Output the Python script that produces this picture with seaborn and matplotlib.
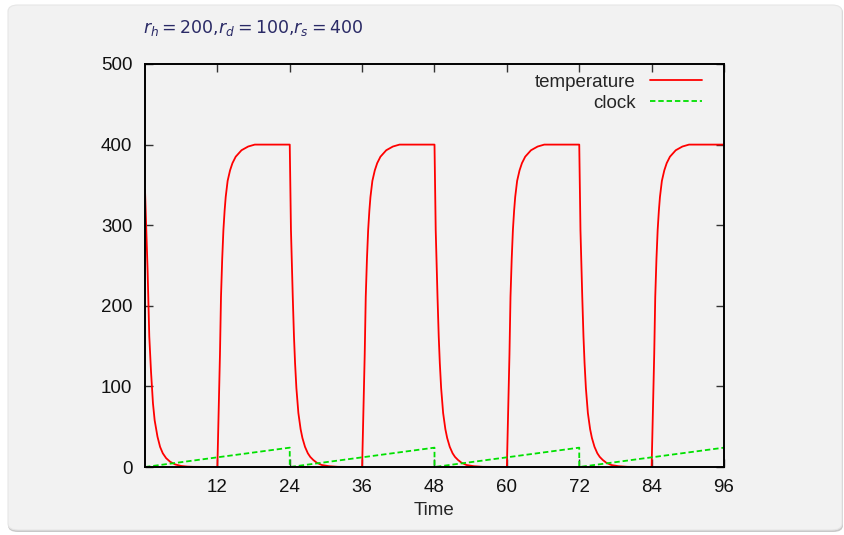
import numpy as np
import pandas as pd
import matplotlib
matplotlib.use("Agg")
import matplotlib.pyplot as plt
import seaborn as sns
from matplotlib.patches import FancyBboxPatch

# ---------------- data ----------------
# initial cooling (t = 0 .. 12)
init_t = [0, 0.25, 0.43, 0.71, 1.0, 1.32, 1.6, 2.07, 2.5, 2.95, 3.5, 4.15, 5.0, 6.0, 7.0, 8.0]
init_v = [344, 285, 244, 162, 118, 79, 58, 37.6, 25, 17, 11, 6.6, 3.2, 1.3, 0.5, 0.2]
# heating profile (hours after heater switches on)
heat_dt = [0, 0.13, 0.27, 0.43, 0.6, 0.8, 1.0, 1.2, 1.38, 1.7, 2.1, 2.5, 3.04, 4.0, 5.1, 6.2, 12]
heat_v = [0, 44, 87, 140, 211, 258, 294, 318, 335, 355, 368, 377, 385, 393, 397.6, 400, 400]
# cooling profile (hours after heater switches off)
cool_dt = [0, 0.1, 0.2, 0.35, 0.5, 0.7, 0.88, 1.1, 1.43, 1.8, 2.1, 2.53, 3.0, 3.4, 3.9, 4.5, 5.3, 6.5, 8.0]
cool_v = [400, 345, 294, 250, 211, 162, 129, 98, 67, 47, 36, 25, 17, 12.5, 8.7, 5.2, 2.5, 1.0, 0.2]
heat_on = [12, 36, 60, 84]
heat_off = [24, 48, 72]

# clock sawtooth
clock_t = [0, 24, 24, 48, 48, 72, 72, 96]
clock_v = [0, 24, 0, 24, 0, 24, 0, 24]

x_ticks = [12, 24, 36, 48, 60, 72, 84, 96]
y_ticks = [0, 100, 200, 300, 400, 500]
title_text = r"$r_h{=}200{,}r_d{=}100{,}r_s{=}400$"

# build temperature table
tt, tv = list(init_t), list(init_v)
for k, on in enumerate(heat_on):
    tt += [on + d for d in heat_dt[:-1]]
    tv += heat_v[:-1]
    if k < len(heat_off):
        off = heat_off[k]
        tt += [off + d for d in cool_dt]
        tv += cool_v
tt.append(96)
tv.append(400)
temp_df = pd.DataFrame({"Time": tt, "value": tv})
clock_df = pd.DataFrame({"Time": clock_t, "value": clock_v})

# ---------------- style ----------------
sns.set_style("ticks")
plt.rcParams["font.family"] = ["Liberation Sans", "DejaVu Sans"]
plt.rcParams["mathtext.fontset"] = "dejavusans"

bg = "#f2f2f2"
fig = plt.figure(figsize=(8.45, 5.35), dpi=100)
fig.patch.set_facecolor("white")

# rounded panel
shadow = FancyBboxPatch((8 / 845, 3 / 535), 835 / 845, 526 / 535,
                        boxstyle="round,pad=0,rounding_size=0.012",
                        transform=fig.transFigure, facecolor="#c8c8c8",
                        edgecolor="none", zorder=-3)
panel = FancyBboxPatch((8 / 845, 5 / 535), 834 / 845, 525 / 535,
                       boxstyle="round,pad=0,rounding_size=0.012",
                       transform=fig.transFigure, facecolor=bg,
                       edgecolor="#e6e6e6", linewidth=0.8, zorder=-2)
fig.patches.extend([shadow, panel])

ax = fig.add_axes([145 / 845, 1 - 467 / 535, (724 - 145) / 845, (467 - 64) / 535])
ax.set_facecolor(bg)
ax.patch.set_alpha(0)

sns.lineplot(data=temp_df, x="Time", y="value", ax=ax, estimator=None, sort=False,
             color="#ff0000", linewidth=1.3, label="temperature")
sns.lineplot(data=clock_df, x="Time", y="value", ax=ax, estimator=None, sort=False,
             color="#00e000", linewidth=1.3, linestyle=(0, (3, 1.6)), label="clock")

ax.set_xlim(0, 96)
ax.set_ylim(0, 500)
ax.set_xticks(x_ticks)
ax.set_yticks(y_ticks)
ax.set_xlabel("Time", fontsize=13.5, labelpad=4)
ax.set_ylabel("")
for s in ax.spines.values():
    s.set_visible(True)
    s.set_linewidth(1.4)
    s.set_color("black")
ax.tick_params(direction="in", length=6, width=1.0, color="#333333",
               top=True, right=True, labelsize=13.5, pad=9, labelcolor="#111111")

leg = ax.legend(loc="upper right", bbox_to_anchor=(0.984, 1.008), frameon=False,
                markerfirst=False, fontsize=13.5, handlelength=2.75,
                handletextpad=0.75, labelspacing=0.2, borderaxespad=0.3)

fig.text(143 / 845, 1 - 28 / 535, title_text, fontsize=12.5, color="#2a2a66",
         ha="left", va="center")

fig.savefig("out.png", dpi=100, facecolor="white")
